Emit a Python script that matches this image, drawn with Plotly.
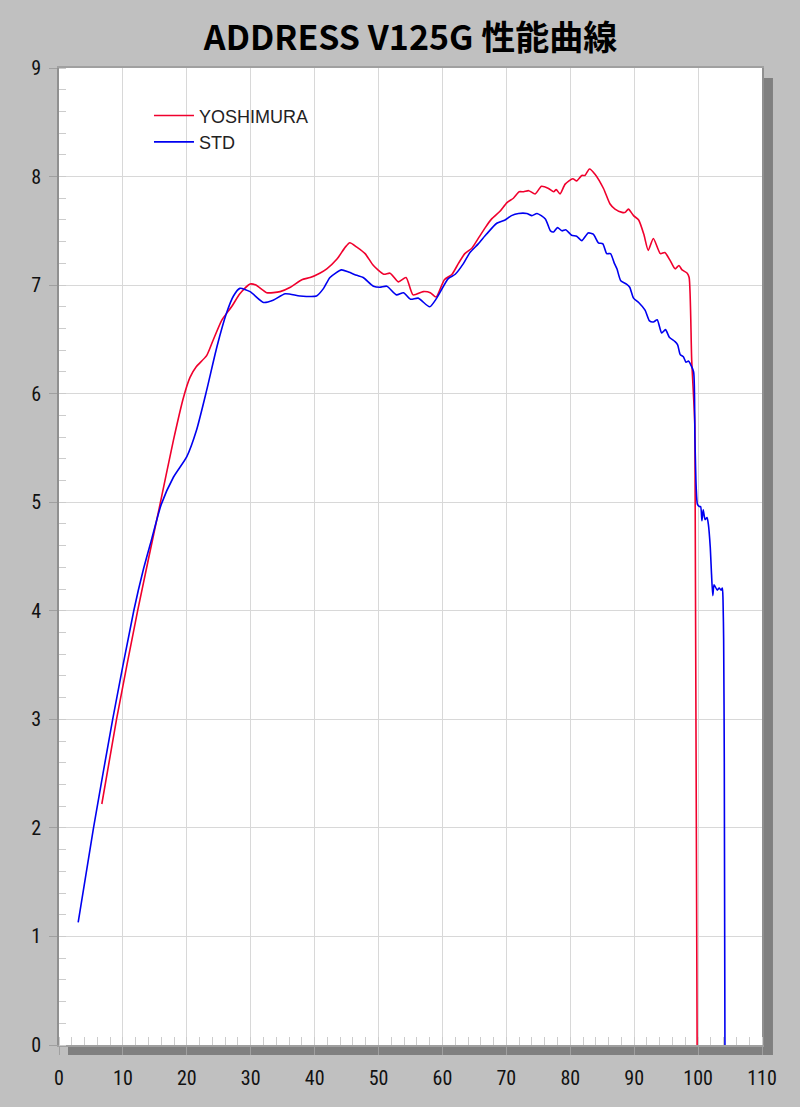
import plotly.graph_objects as go

# ---- data ----
yoshimura_x = [6.7, 9.0, 12.3, 15.7, 17.9, 19.5, 20.5, 21.5, 23.1, 24.1, 25.5, 27.0, 28.3, 29.9, 30.8,
               32.5, 34.6, 36.2, 38.0, 39.3, 40.8, 41.9, 43.5, 44.8, 45.5, 46.6, 47.9, 49.2, 50.8, 51.8,
               53.1, 54.3, 55.4, 57.0, 58.1, 59.0, 60.3, 61.5, 62.5, 63.5, 64.6, 65.6, 66.7, 67.7, 69.0,
               70.1, 71.1, 72.0, 72.7, 73.5, 74.5, 75.5, 76.6, 77.4, 77.8, 78.4, 79.2, 80.4, 81.0, 81.8,
               82.3, 83.0, 83.9, 85.2, 86.2, 87.0, 88.1, 88.6, 89.1, 89.9, 90.7, 91.5, 92.2, 93.0, 94.1,
               94.8, 95.6, 96.4, 97.0, 97.5, 98.3, 98.6, 99.0, 99.5, 99.85]
yoshimura_y = [2.22, 3.0, 4.0, 4.95, 5.57, 5.97, 6.15, 6.25, 6.35, 6.49, 6.68, 6.80, 6.92, 7.01, 7.00,
               6.93, 6.94, 6.98, 7.05, 7.07, 7.11, 7.15, 7.24, 7.35, 7.39, 7.35, 7.29, 7.18, 7.10, 7.11,
               7.03, 7.07, 6.91, 6.94, 6.93, 6.89, 7.05, 7.10, 7.20, 7.29, 7.34, 7.43, 7.53, 7.61, 7.68,
               7.76, 7.80, 7.86, 7.86, 7.87, 7.84, 7.91, 7.89, 7.86, 7.88, 7.84, 7.93, 7.98, 7.96, 8.01,
               8.01, 8.07, 8.02, 7.89, 7.75, 7.70, 7.67, 7.67, 7.70, 7.64, 7.60, 7.47, 7.32, 7.43, 7.29,
               7.30, 7.23, 7.15, 7.18, 7.14, 7.11, 7.07, 6.31, 5.69, 0.0]

std_x = [3.0, 5.4, 8.4, 11.7, 13.2, 14.5, 16.0, 17.9, 20.0, 21.5, 23.1, 24.7, 26.2, 27.3, 28.3, 29.9,
         32.0, 33.5, 35.4, 37.7, 40.3, 41.4, 42.4, 44.2, 45.3, 46.6, 47.6, 49.2, 50.2, 51.3, 52.8,
         53.9, 55.0, 56.2, 58.0, 59.1, 60.9, 62.0, 63.3, 64.3, 65.6, 66.9, 68.5, 69.8, 70.8, 71.9,
         73.2, 74.0, 74.8, 76.1, 76.9, 77.4, 78.0, 78.7, 79.3, 80.2, 81.0, 81.8, 82.8, 83.6, 84.4,
         85.1, 85.7, 86.3, 86.9, 87.3, 87.9, 88.8, 89.3, 89.9, 90.7, 91.7, 92.4, 93.0, 93.6, 94.3,
         94.9, 95.5, 96.4, 96.8, 97.2, 97.7, 98.1, 98.5, 98.9, 99.3, 99.5, 99.7, 99.9, 100.2, 100.4,
         100.6, 100.8, 101.1, 101.4, 101.6, 101.9, 102.1, 102.3, 102.5, 103.0, 103.3, 103.6, 103.8, 103.9, 104.0,
         104.1, 104.2]
std_y = [1.13, 2.0, 3.0, 4.0, 4.38, 4.66, 4.98, 5.23, 5.42, 5.66, 6.03, 6.43, 6.74, 6.90, 6.97, 6.94,
         6.84, 6.86, 6.92, 6.90, 6.90, 6.97, 7.07, 7.14, 7.12, 7.09, 7.07, 6.99, 6.98, 6.99, 6.91,
         6.93, 6.87, 6.88, 6.80, 6.88, 7.06, 7.10, 7.20, 7.30, 7.38, 7.47, 7.57, 7.60, 7.64, 7.66,
         7.66, 7.64, 7.66, 7.61, 7.50, 7.49, 7.53, 7.50, 7.51, 7.46, 7.45, 7.41, 7.48, 7.47, 7.39,
         7.38, 7.29, 7.29, 7.20, 7.15, 7.04, 7.01, 6.98, 6.88, 6.84, 6.77, 6.67, 6.66, 6.68, 6.56,
         6.59, 6.52, 6.48, 6.45, 6.36, 6.34, 6.29, 6.30, 6.26, 6.20, 5.60, 5.14, 4.98, 4.96, 4.96,
         4.83, 4.93, 4.84, 4.86, 4.80, 4.59, 4.34, 4.14, 4.24, 4.19, 4.21, 4.19, 4.21, 4.10, 3.73,
         2.6, 0.0]

x_ticks = list(range(0, 111, 10))
y_ticks = list(range(0, 10))
title_text = "ADDRESS V125G 性能曲線"

RED = "#f0002d"
BLUE = "#0000f0"

fig = go.Figure()
fig.add_trace(go.Scatter(x=yoshimura_x, y=yoshimura_y, mode="lines", name="YOSHIMURA",
                         line=dict(color=RED, width=1.6, shape="spline", smoothing=0.6)))
fig.add_trace(go.Scatter(x=std_x, y=std_y, mode="lines", name="STD",
                         line=dict(color=BLUE, width=1.6, shape="spline", smoothing=0.6)))

tickfont = dict(family="Liberation Sans Narrow, Roboto Condensed, DejaVu Sans Condensed, sans-serif",
                size=20, color="#111111")

fig.update_layout(
    width=800, height=1107,
    margin=dict(l=59, r=38, t=68, b=62, pad=0),
    paper_bgcolor="#c0c0c0",
    plot_bgcolor="rgba(0,0,0,0)",
    title=dict(text="<b>" + title_text + "</b>", x=0.5, xref="paper", xanchor="center",
               y=1 - 38 / 1107, yanchor="middle",
               font=dict(family="Noto Sans CJK JP", size=34, color="#000000")),
    showlegend=True,
    legend=dict(x=0.128, y=0.970, xanchor="left", yanchor="top", bgcolor="rgba(0,0,0,0)",
                font=dict(family="Liberation Sans, Arial, sans-serif", size=18, color="#222222"),
                tracegroupgap=0, itemwidth=40),
    shapes=[
        dict(type="rect", xref="paper", yref="paper", x0=0.0128, x1=1.0156, y0=-0.0102, y1=0.9898,
             fillcolor="#808080", line=dict(width=0), layer="below"),
        dict(type="rect", xref="paper", yref="paper", x0=0, x1=1, y0=0, y1=1,
             fillcolor="#ffffff", line=dict(width=0), layer="below"),
    ],
)

fig.update_xaxes(range=[0, 110], tickvals=x_ticks, ticktext=[str(v) for v in x_ticks],
                 showgrid=True, gridcolor="#d8d8d8", gridwidth=1, zeroline=False,
                 showline=True, linecolor="#a0a0a0", linewidth=2, mirror=True,
                 ticks="outside", ticklen=8, tickcolor="#a0a0a0", ticklabelstandoff=6,
                 minor=dict(dtick=2, ticks="inside", ticklen=8, tickcolor="#cccccc", showgrid=False),
                 tickfont=tickfont, fixedrange=True)
fig.update_yaxes(range=[0, 9], tickvals=y_ticks, ticktext=[str(v) for v in y_ticks],
                 showgrid=True, gridcolor="#d8d8d8", gridwidth=1, zeroline=False,
                 showline=True, linecolor="#909090", linewidth=2, mirror=True,
                 ticks="outside", ticklen=8, tickcolor="#a0a0a0", ticklabelstandoff=4,
                 minor=dict(dtick=0.2, ticks="inside", ticklen=7, tickcolor="#cccccc", showgrid=False),
                 tickfont=tickfont, fixedrange=True)

fig.write_html("out.html", config={"displayModeBar": False})

# remove the default page margin so the figure sits at the window origin
with open("out.html", "r", encoding="utf-8") as f:
    html = f.read()
html = html.replace("<head>", "<head><style>html,body{margin:0;padding:0;background:#c0c0c0;}</style>", 1)
with open("out.html", "w", encoding="utf-8") as f:
    f.write(html)
